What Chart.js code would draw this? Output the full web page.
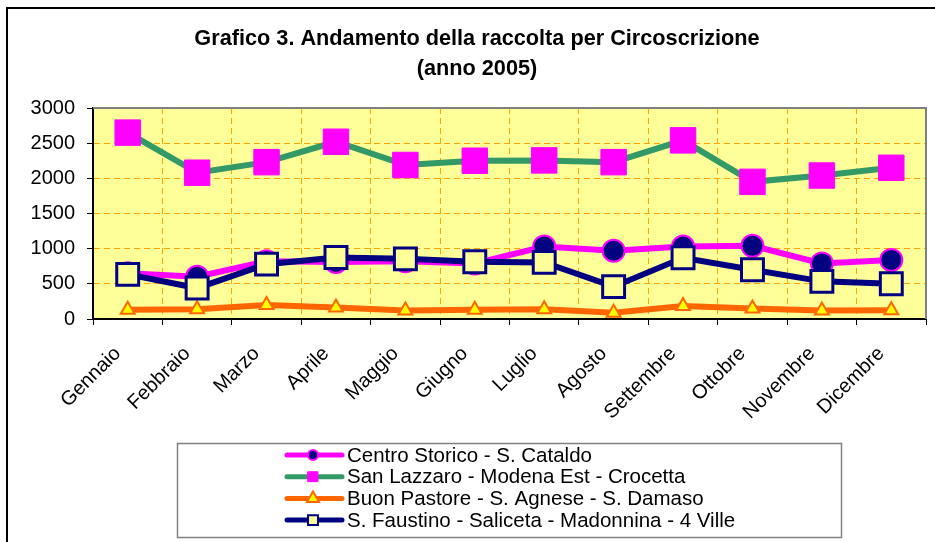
<!DOCTYPE html>
<html>
<head>
<meta charset="utf-8">
<script src="https://cdn.jsdelivr.net/npm/chart.js@4.4.1/dist/chart.umd.min.js"></script>
<style>
  body { margin: 0; background: #fff; }
  #wrap { width: 935px; height: 542px; }
</style>
</head>
<body>
<div id="wrap"><canvas id="myChart" width="935" height="542"></canvas></div>
<script>
// data
const mesi = ['Gennaio', 'Febbraio', 'Marzo', 'Aprile', 'Maggio', 'Giugno',
  'Luglio', 'Agosto', 'Settembre', 'Ottobre', 'Novembre', 'Dicembre'];
const centroStorico = [650, 600, 820, 810, 820, 790, 1030, 970, 1030, 1040, 790, 840];
const sanLazzaro = [2650, 2080, 2230, 2520, 2190, 2250, 2255, 2230, 2540, 1950, 2040, 2150];
const buonPastore = [130, 140, 200, 165, 120, 130, 140, 90, 185, 150, 120, 125];
const sFaustino = [635, 440, 780, 875, 855, 815, 805, 460, 870, 700, 535, 500];
const yTicks = [0, 500, 1000, 1500, 2000, 2500, 3000];
const titolo = ['Grafico 3. Andamento della raccolta per Circoscrizione', '(anno 2005)'];

const ctx = document.getElementById('myChart');

Chart.defaults.font.family = "'Liberation Sans', Arial, sans-serif";
Chart.defaults.color = '#000';

// yellow plot area, grey frame, outer border, title
const plotFrame = {
  id: 'plotFrame',
  beforeDraw(chart) {
    const c = chart.ctx, a = chart.chartArea;
    c.save();
    c.fillStyle = '#FFFF99';
    c.fillRect(a.left, a.top, a.right - a.left, a.bottom - a.top);
    c.fillStyle = '#000';
    c.font = "bold 21.7px 'Liberation Sans', Arial, sans-serif";
    c.textAlign = 'center';
    c.textBaseline = 'middle';
    c.fillText(titolo[0], 477, 39);
    c.fillText(titolo[1], 477, 69);
    c.restore();
  },
  afterDatasetsDraw(chart) {
    const c = chart.ctx, a = chart.chartArea;
    c.save();
    c.strokeStyle = '#808080';
    c.lineWidth = 2;
    c.beginPath();
    c.moveTo(a.left, a.top);
    c.lineTo(a.right, a.top);
    c.lineTo(a.right, a.bottom);
    c.stroke();
    c.strokeStyle = '#000';
    c.lineWidth = 2;
    c.strokeRect(7, 8, 1000, 1000);
    c.restore();
  }
};

// excel style legend box under the chart
const boxLegend = {
  id: 'boxLegend',
  afterDraw(chart) {
    const c = chart.ctx;
    c.save();
    c.strokeStyle = '#808080';
    c.lineWidth = 1.5;
    c.strokeRect(177.5, 443.5, 664, 94);
    chart.data.datasets.forEach((ds, i) => {
      const y = 455 + i * 21.7;
      c.strokeStyle = ds.borderColor;
      c.lineWidth = 5;
      c.lineCap = 'round';
      c.beginPath();
      c.moveTo(287, y);
      c.lineTo(342, y);
      c.stroke();
      c.fillStyle = ds.pointBackgroundColor;
      c.strokeStyle = ds.pointBorderColor;
      c.lineWidth = Math.min(ds.pointBorderWidth, 2);
      Chart.helpers.drawPoint(c, {
        pointStyle: ds.pointStyle,
        radius: ds.pointStyle === 'circle' ? 5 : 7,
        rotation: 0,
        borderWidth: c.lineWidth
      }, 313, y);
      c.fillStyle = '#000';
      c.font = "20.5px 'Liberation Sans', Arial, sans-serif";
      c.textAlign = 'left';
      c.textBaseline = 'middle';
      c.fillText(ds.label, 347, y + 1);
    });
    c.restore();
  }
};

new Chart(ctx, {
  type: 'line',
  data: {
    labels: mesi,
    datasets: [{
      label: 'Centro Storico - S. Cataldo',
      data: centroStorico,
      borderColor: '#FF00FF',
      borderWidth: 6,
      pointStyle: 'circle',
      pointRadius: 11,
      pointBackgroundColor: '#000080',
      pointBorderColor: '#FF00FF',
      pointBorderWidth: 2,
      order: 3
    }, {
      label: 'San Lazzaro - Modena Est - Crocetta',
      data: sanLazzaro,
      borderColor: '#339966',
      borderWidth: 6,
      pointStyle: 'rect',
      pointRadius: 18,
      pointBackgroundColor: '#FF00FF',
      pointBorderColor: '#FF00FF',
      pointBorderWidth: 1,
      order: 2
    }, {
      label: 'Buon Pastore - S. Agnese - S. Damaso',
      data: buonPastore,
      borderColor: '#FF6600',
      borderWidth: 6,
      pointStyle: 'triangle',
      pointRadius: 8,
      pointBackgroundColor: '#FFFF00',
      pointBorderColor: '#FF6600',
      pointBorderWidth: 2,
      order: 1
    }, {
      label: 'S. Faustino - Saliceta - Madonnina - 4 Ville',
      data: sFaustino,
      borderColor: '#000080',
      borderWidth: 6,
      pointStyle: 'rect',
      pointRadius: 15.5,
      pointBackgroundColor: '#FFFF99',
      pointBorderColor: '#000080',
      pointBorderWidth: 3,
      order: 0
    }]
  },
  options: {
    responsive: false,
    animation: false,
    events: [],
    layout: { autoPadding: false, padding: { top: 108, left: 0, right: 9, bottom: 0 } },
    plugins: {
      legend: { display: false },
      tooltip: { enabled: false },
      title: { display: false }
    },
    scales: {
      x: {
        offset: true,
        afterFit(scale) {
          scale.height = 223;
          scale.paddingLeft = 0;
          scale.paddingRight = 0;
        },
        grid: {
          offset: true,
          color: '#FFA500',
          lineWidth: 1,
          tickColor: '#000',
          tickLength: 6,
          tickBorderDash: []
        },
        border: { color: '#000', width: 2, dash: [6, 4] },
        ticks: {
          autoSkip: false,
          minRotation: 45,
          maxRotation: 45,
          padding: 17,
          labelOffset: -10,
          font: { size: 20 }
        }
      },
      y: {
        min: 0,
        max: 3000,
        afterFit(scale) {
          scale.width = 93;
          scale.paddingTop = 0;
          scale.paddingBottom = 0;
        },
        afterBuildTicks(scale) { scale.ticks = yTicks.map(v => ({ value: v })); },
        grid: {
          color: '#FFA500',
          lineWidth: 1,
          tickColor: '#000',
          tickLength: 6,
          tickBorderDash: []
        },
        border: { color: '#000', width: 2, dash: [6, 4] },
        ticks: {
          padding: 12,
          font: { size: 20 },
          callback: v => String(v)
        }
      }
    }
  },
  plugins: [plotFrame, boxLegend]
});
</script>
</body>
</html>
